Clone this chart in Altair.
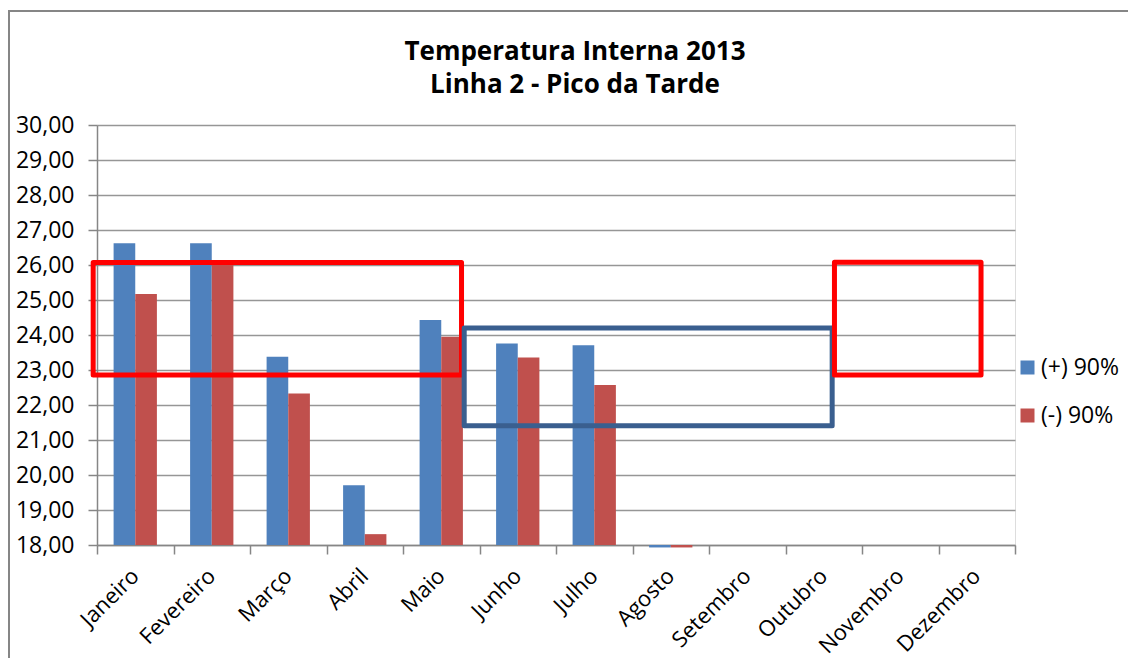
import altair as alt
import pandas as pd

months = ["Janeiro", "Fevereiro", "Março", "Abril", "Maio", "Junho", "Julho",
          "Agosto", "Setembro", "Outubro", "Novembro", "Dezembro"]
bar_months = ["Janeiro", "Fevereiro", "Março", "Abril", "Maio", "Junho", "Julho", "Agosto"]
plus90 = [26.62, 26.62, 23.38, 19.71, 24.43, 23.76, 23.71, 17.93]
minus90 = [25.17, 26.10, 22.33, 18.31, 23.95, 23.36, 22.57, 17.93]
series = ["(+) 90%", "(-) 90%"]
colors = ["#4F81BD", "#C0504D"]
y_ticks = [18, 19, 20, 21, 22, 23, 24, 25, 26, 27, 28, 29, 30]
x_boundaries = [0, 1, 2, 3, 4, 5, 6, 7, 8, 9, 10, 11, 12]

# highlight boxes (x in month-index units, y in degrees)
box_x0 = [-0.05, 4.80, 9.64]
box_x1 = [4.765, 9.61, 11.556]
box_y0 = [22.86, 21.41, 22.86]
box_y1 = [26.07, 24.20, 26.08]
box_col = ["#FF0000", "#3A5F8F", "#FF0000"]

rows = []
for m, a, b in zip(bar_months, plus90, minus90):
    rows.append({"mes": m, "serie": series[0], "valor": a})
    rows.append({"mes": m, "serie": series[1], "valor": b})
bars_df = pd.DataFrame(rows)
boxes_df = pd.DataFrame({"x0": box_x0, "x1": box_x1, "y0": box_y0, "y1": box_y1, "c": box_col})

FONT = "Open Sans"
W, H = 918, 420

y_axis = alt.Axis(title=None, values=y_ticks, tickCount=40, labelOverlap=False,
                  labelExpr="replace(format(datum.value, '.2f'), '.', ',')",
                  labelFontSize=23, labelFont=FONT, labelColor="#000000",
                  tickSize=9, tickColor="#868686", tickWidth=1.5,
                  domainColor="#868686", domainWidth=1.5,
                  gridColor="#969696", gridWidth=1.5, labelPadding=14)
y_scale = alt.Scale(domain=[18, 30], nice=False, zero=False)

bars = alt.Chart(bars_df).mark_bar().encode(
    x=alt.X("mes:N", sort=months,
            scale=alt.Scale(domain=months, paddingInner=0.434, paddingOuter=0.217),
            axis=alt.Axis(title=None, orient="bottom", labelAngle=-45, labelFontSize=22,
                          labelFont=FONT, labelColor="#000000", labelOverlap=False,
                          labelOffset=-7, ticks=False, tickSize=0, domain=False,
                          grid=False, labelPadding=20)),
    xOffset=alt.XOffset("serie:N", sort=series, scale=alt.Scale(paddingInner=0, paddingOuter=0)),
    y=alt.Y("valor:Q", scale=y_scale, axis=y_axis),
    y2=alt.Y2(datum=18),
    color=alt.Color("serie:N", sort=series,
                    scale=alt.Scale(domain=series, range=colors),
                    legend=alt.Legend(title=None, orient="none", legendX=919, legendY=231,
                                      padding=0, symbolType="square", symbolSize=196,
                                      symbolStrokeWidth=0, labelFontSize=23,
                                      labelFont=FONT, labelColor="#000000",
                                      labelOffset=2, rowPadding=24)),
)

boxes = alt.Chart(boxes_df).mark_rect(filled=False, strokeWidth=5, strokeJoin="round").encode(
    x=alt.X("x0:Q", scale=alt.Scale(domain=[0, 12], nice=False, zero=False),
            axis=alt.Axis(title=None, orient="bottom", values=x_boundaries, tickCount=40,
                          labels=False, tickSize=9, tickColor="#868686", tickWidth=1.5,
                          domainColor="#868686", domainWidth=1.5, grid=False)),
    x2="x1:Q",
    y=alt.Y("y0:Q", scale=y_scale, axis=y_axis),
    y2="y1:Q",
    stroke=alt.Stroke("c:N", scale=None),
)

frame = alt.Chart(pd.DataFrame({"k": [0]})).mark_rect(
    filled=False, stroke="#868686", strokeWidth=2
).encode(
    x=alt.value(-88), x2=alt.value(W + 130),
    y=alt.value(-114), y2=alt.value(H + 130),
)

chart = alt.layer(bars, boxes, frame).resolve_scale(x="independent").properties(
    width=W, height=H,
    title=alt.TitleParams(
        text=["Temperatura Interna 2013", "Linha 2 - Pico da Tarde"],
        font=FONT, fontSize=26, fontWeight="bold", color="#000000",
        anchor="middle", dx=19, offset=-109, lineHeight=33, baseline="alphabetic",
    ),
    padding={"left": 89, "top": 117, "right": 113, "bottom": 113},
    autosize=alt.AutoSizeParams(type="none"),
).configure_view(stroke=None).configure(background="#FFFFFF")

chart.save("out.html", embed_options={"renderer": "svg", "actions": False})
